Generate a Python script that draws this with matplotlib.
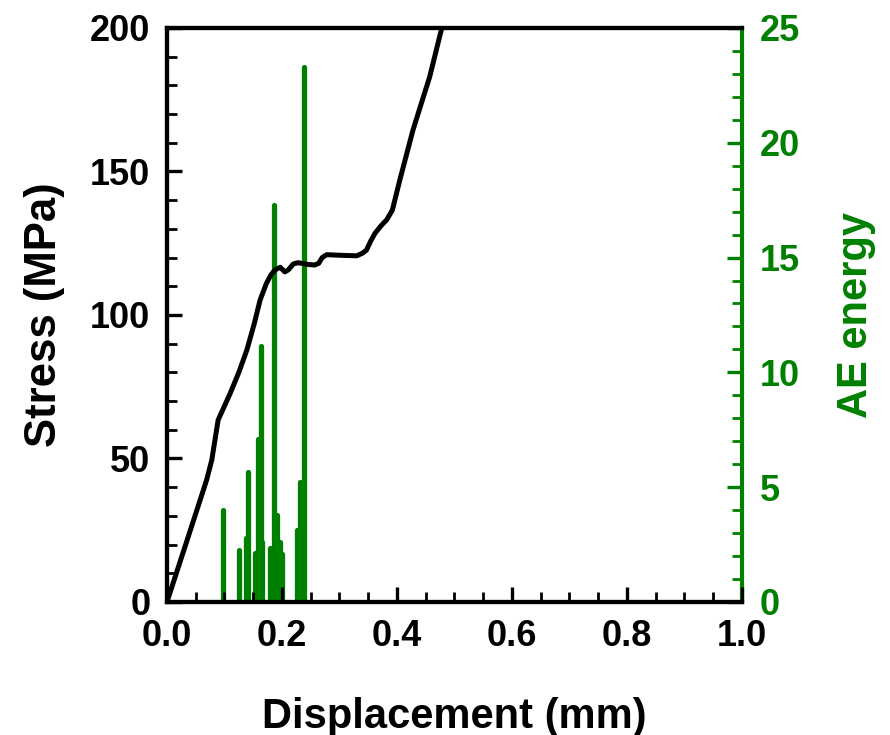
import matplotlib
matplotlib.use("Agg")
import matplotlib.pyplot as plt
from matplotlib.ticker import MultipleLocator

# stress-displacement curve
disp = [0, 0.035, 0.069, 0.078, 0.089, 0.110, 0.125, 0.139, 0.152, 0.162, 0.173,
        0.181, 0.188, 0.197, 0.205, 0.211, 0.220, 0.228, 0.245, 0.257, 0.264,
        0.270, 0.278, 0.300, 0.330, 0.340, 0.347, 0.355, 0.362, 0.372, 0.382,
        0.392, 0.405, 0.428, 0.457, 0.478, 0.485]
stress = [0, 21.5, 42.5, 49.5, 63.4, 72.7, 80.0, 87.8, 97.1, 105.2, 111.0,
          114.0, 115.7, 116.6, 115.0, 115.7, 117.8, 118.2, 117.6, 117.4, 118.0,
          120.0, 121.0, 120.8, 120.6, 121.5, 122.6, 126.0, 128.5, 131.0, 133.1,
          136.5, 147.0, 164.5, 183.0, 200.0, 205.0]

# AE energy events
ae_disp = [0.098, 0.126, 0.137, 0.141, 0.153, 0.158, 0.163, 0.165, 0.179, 0.186,
           0.191, 0.197, 0.200, 0.226, 0.231, 0.238]
ae_energy = [4.0, 2.26, 2.77, 5.68, 2.12, 7.08, 11.15, 2.6, 2.34, 17.3,
             3.79, 2.63, 2.1, 3.13, 5.24, 23.3]

green = '#008000'
plt.rcParams['font.family'] = ['Liberation Sans', 'DejaVu Sans']
plt.rcParams['font.weight'] = 'bold'

fig = plt.figure(figsize=(8.9, 7.35), dpi=100)
ax = fig.add_axes([0.1876, 0.181, 0.646, 0.781])
ax2 = ax.twinx()

lc = ax2.vlines(ae_disp, 0, ae_energy, colors=green, linewidth=3.8)
lc.set_capstyle('round')
ax.plot(disp, stress, color='black', linewidth=3.6, solid_joinstyle='round',
        solid_capstyle='round', zorder=5)
ax.set_zorder(ax2.get_zorder() + 1)
ax.patch.set_visible(False)

ax.set_xlim(0, 1.0)
ax.set_ylim(0, 200)
ax2.set_ylim(0, 25)

ax.xaxis.set_major_locator(MultipleLocator(0.2))
ax.xaxis.set_minor_locator(MultipleLocator(0.05))
ax.yaxis.set_major_locator(MultipleLocator(50))
ax.yaxis.set_minor_locator(MultipleLocator(10))
ax2.yaxis.set_major_locator(MultipleLocator(5))
ax2.yaxis.set_minor_locator(MultipleLocator(1))
ax.xaxis.set_major_formatter(plt.FormatStrFormatter('%.1f'))

ax.tick_params(axis='both', which='major', direction='in', length=11, width=2.4,
               labelsize=26, pad=12)
ax.tick_params(axis='both', which='minor', direction='in', length=7, width=2.0)
ax.tick_params(axis='x', which='major', pad=12)
ax.tick_params(axis='y', right=False, which='both')
ax2.tick_params(axis='y', which='major', direction='in', length=11, width=2.4,
                labelsize=26, pad=13, colors=green)
ax2.tick_params(axis='y', which='minor', direction='in', length=7, width=2.0,
                colors=green)

for side in ['left', 'top', 'bottom']:
    ax.spines[side].set_linewidth(3.0)
    ax2.spines[side].set_linewidth(3.0)
ax.spines['right'].set_visible(False)
ax2.spines['right'].set_linewidth(3.0)
ax2.spines['right'].set_color(green)

ax.set_xlabel('Displacement (mm)', fontsize=30, fontweight='bold', labelpad=31)
ax.set_ylabel('Stress (MPa)', fontsize=31.5, fontweight='bold', labelpad=18)
ax2.set_ylabel('AE energy', fontsize=30, fontweight='bold', color=green, labelpad=26)

fig.savefig('out.png', dpi=100)
